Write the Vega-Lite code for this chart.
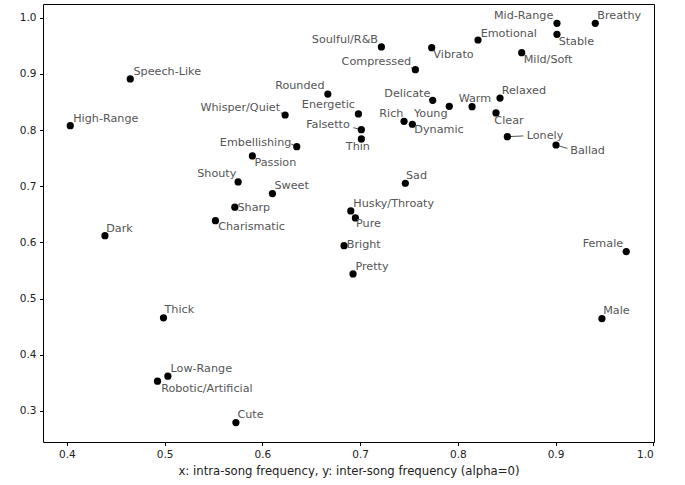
{
  "$schema": "https://vega.github.io/schema/vega-lite/v6.json",
  "autosize": {"type": "none"},
  "padding": {"left": 43, "top": 4, "right": 31, "bottom": 43},
  "width": 611,
  "height": 438,
  "background": "white",
  "config": {
    "view": {"stroke": "#000000", "strokeWidth": 1},
    "font": "DejaVu Sans",
    "axis": {
      "domain": false,
      "grid": false,
      "ticks": true,
      "tickColor": "#000000",
      "tickSize": 3.5,
      "tickWidth": 1,
      "labelFont": "DejaVu Sans",
      "labelFontSize": 10.5,
      "labelColor": "#222222",
      "labelPadding": 3.5,
      "titleFont": "DejaVu Sans",
      "titleFontSize": 11.7,
      "titleFontWeight": "normal",
      "titleColor": "#222222",
      "titlePadding": 6
    }
  },
  "data": {
    "values": [
      {"label": "Speech-Like", "x": 0.4648, "y": 0.891, "lx": 0.4681, "ly": 0.8986},
      {"label": "High-Range", "x": 0.4034, "y": 0.8078, "lx": 0.4064, "ly": 0.8149},
      {"label": "Rounded", "x": 0.667, "y": 0.864, "lx": 0.6131, "ly": 0.8726},
      {"label": "Whisper/Quiet", "x": 0.6233, "y": 0.8268, "lx": 0.5366, "ly": 0.834, "ax": 0.6189, "ay": 0.8309},
      {"label": "Embellishing", "x": 0.6352, "y": 0.7704, "lx": 0.5565, "ly": 0.7722, "ax": 0.6294, "ay": 0.7752},
      {"label": "Passion", "x": 0.5898, "y": 0.7539, "lx": 0.5919, "ly": 0.7355},
      {"label": "Shouty", "x": 0.5752, "y": 0.7076, "lx": 0.5333, "ly": 0.716},
      {"label": "Sweet", "x": 0.6103, "y": 0.6868, "lx": 0.6123, "ly": 0.6957},
      {"label": "Sharp", "x": 0.5718, "y": 0.6626, "lx": 0.5745, "ly": 0.6565},
      {"label": "Charismatic", "x": 0.552, "y": 0.6387, "lx": 0.5548, "ly": 0.6216},
      {"label": "Dark", "x": 0.4389, "y": 0.612, "lx": 0.4402, "ly": 0.6181},
      {"label": "Thick", "x": 0.4988, "y": 0.4656, "lx": 0.4998, "ly": 0.475},
      {"label": "Low-Range", "x": 0.5033, "y": 0.3618, "lx": 0.506, "ly": 0.3689},
      {"label": "Robotic/Artificial", "x": 0.4927, "y": 0.3529, "lx": 0.4964, "ly": 0.3344},
      {"label": "Cute", "x": 0.5729, "y": 0.2792, "lx": 0.5745, "ly": 0.2881},
      {"label": "Mid-Range", "x": 0.9015, "y": 0.99, "lx": 0.837, "ly": 0.9972},
      {"label": "Breathy", "x": 0.9407, "y": 0.99, "lx": 0.9427, "ly": 0.9972},
      {"label": "Stable", "x": 0.9015, "y": 0.9704, "lx": 0.9032, "ly": 0.9519},
      {"label": "Emotional", "x": 0.8207, "y": 0.9603, "lx": 0.8234, "ly": 0.9662},
      {"label": "Soulful/R&B", "x": 0.7218, "y": 0.9479, "lx": 0.6506, "ly": 0.9544},
      {"label": "Vibrato", "x": 0.7733, "y": 0.9466, "lx": 0.775, "ly": 0.9283},
      {"label": "Mild/Soft", "x": 0.8654, "y": 0.9377, "lx": 0.8674, "ly": 0.9188},
      {"label": "Compressed", "x": 0.7566, "y": 0.9075, "lx": 0.6811, "ly": 0.9164, "ax": 0.7522, "ay": 0.911},
      {"label": "Relaxed", "x": 0.8432, "y": 0.857, "lx": 0.8449, "ly": 0.8637},
      {"label": "Delicate", "x": 0.7743, "y": 0.853, "lx": 0.7248, "ly": 0.8594},
      {"label": "Young", "x": 0.7913, "y": 0.8423, "lx": 0.7552, "ly": 0.8238},
      {"label": "Warm", "x": 0.8146, "y": 0.8416, "lx": 0.8009, "ly": 0.8505},
      {"label": "Clear", "x": 0.8391, "y": 0.8304, "lx": 0.8374, "ly": 0.8114},
      {"label": "Energetic", "x": 0.6983, "y": 0.8286, "lx": 0.6404, "ly": 0.8388},
      {"label": "Rich", "x": 0.745, "y": 0.8156, "lx": 0.7197, "ly": 0.8238},
      {"label": "Dynamic", "x": 0.7535, "y": 0.8103, "lx": 0.7555, "ly": 0.7943},
      {"label": "Falsetto", "x": 0.7013, "y": 0.8007, "lx": 0.6448, "ly": 0.8032, "ax": 0.6931, "ay": 0.8042},
      {"label": "Thin", "x": 0.7013, "y": 0.7841, "lx": 0.6854, "ly": 0.7645},
      {"label": "Lonely", "x": 0.8507, "y": 0.7882, "lx": 0.8705, "ly": 0.7847, "ax": 0.8672, "ay": 0.7895},
      {"label": "Ballad", "x": 0.9005, "y": 0.7734, "lx": 0.9151, "ly": 0.7569, "ax": 0.9122, "ay": 0.7672},
      {"label": "Sad", "x": 0.7463, "y": 0.7053, "lx": 0.747, "ly": 0.7129},
      {"label": "Husky/Throaty", "x": 0.6905, "y": 0.656, "lx": 0.6931, "ly": 0.6636},
      {"label": "Pure", "x": 0.6952, "y": 0.6435, "lx": 0.6959, "ly": 0.627},
      {"label": "Bright", "x": 0.6836, "y": 0.5942, "lx": 0.6864, "ly": 0.5896},
      {"label": "Pretty", "x": 0.6928, "y": 0.5439, "lx": 0.6952, "ly": 0.551},
      {"label": "Female", "x": 0.9724, "y": 0.5836, "lx": 0.9278, "ly": 0.5925},
      {"label": "Male", "x": 0.9475, "y": 0.4643, "lx": 0.9488, "ly": 0.4722}
    ]
  },
  "layer": [
    {
      "transform": [{"filter": "isValid(datum.ax)"}],
      "mark": {"type": "rule", "color": "#555555", "strokeWidth": 1},
      "encoding": {
        "x": {"field": "x", "type": "quantitative", "scale": {"domain": [0.3755, 1.0008], "nice": false, "zero": false}, "axis": {"values": [0.4, 0.5, 0.6, 0.7, 0.8, 0.9, 1.0], "format": ".1f"}, "title": "x: intra-song frequency, y: inter-song frequency (alpha=0)"},
        "y": {"field": "y", "type": "quantitative", "scale": {"domain": [0.2446, 1.0244], "nice": false, "zero": false}, "axis": {"values": [0.3, 0.4, 0.5, 0.6, 0.7, 0.8, 0.9, 1.0], "format": ".1f"}, "title": null},
        "x2": {"field": "ax"},
        "y2": {"field": "ay"}
      }
    },
    {
      "mark": {"type": "point", "filled": true, "shape": "circle", "color": "#000000", "opacity": 1, "size": 52},
      "encoding": {
        "x": {"field": "x", "type": "quantitative", "title": "x: intra-song frequency, y: inter-song frequency (alpha=0)"},
        "y": {"field": "y", "type": "quantitative", "title": null}
      }
    },
    {
      "mark": {"type": "text", "align": "left", "baseline": "alphabetic", "font": "DejaVu Sans", "fontSize": 11.2, "color": "#555555"},
      "encoding": {
        "x": {"field": "lx", "type": "quantitative", "title": "x: intra-song frequency, y: inter-song frequency (alpha=0)"},
        "y": {"field": "ly", "type": "quantitative", "title": null},
        "text": {"field": "label"}
      }
    }
  ]
}
